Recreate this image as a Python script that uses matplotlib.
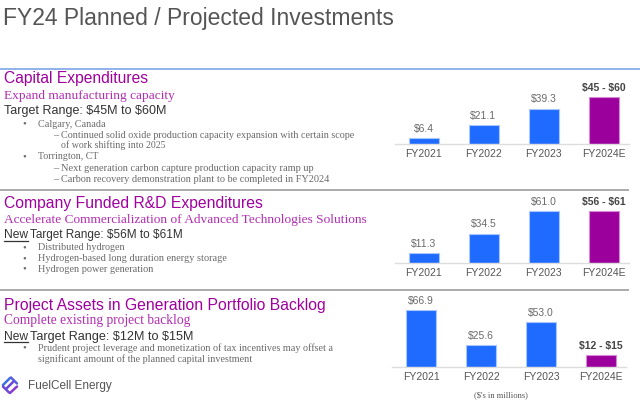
"""FY24 planned / projected investments slide."""
import matplotlib
matplotlib.use('Agg')
import matplotlib.pyplot as plt
from matplotlib.lines import Line2D

W, H = 640, 404

years = ['FY2021', 'FY2022', 'FY2023', 'FY2024E']

capex_bars = [6.4, 21.1, 39.3, 52.5]
capex_labels = ['$6.4', '$21.1', '$39.3', '$45 - $60']

rnd_bars = [11.3, 34.5, 61.0, 61.0]
rnd_labels = ['$11.3', '$34.5', '$61.0', '$56 - $61']

assets_bars = [66.9, 25.6, 53.0, 13.5]
assets_labels = ['$66.9', '$25.6', '$53.0', '$12 - $15']

blue = '#1f6bff'
purple = '#9c009c'
head_color = '#a0009f'
sub_color = '#b22db2'
body_color = '#6a6a6a'
SANS = ['Liberation Sans', 'DejaVu Sans']
NARROW = ['Liberation Sans Narrow', 'Liberation Sans']
SERIF = ['Liberation Serif', 'DejaVu Serif']

fig = plt.figure(figsize=(W / 100, H / 100), dpi=100)
fig.patch.set_facecolor('white')
renderer = fig.canvas.get_renderer()


def put(x, y, s, w, **kw):
    """Place text at pixel (x, baseline y), scaled to pixel width w."""
    t = fig.text(x / W, 1 - y / H, s, va='baseline', ha='left',
                 parse_math=False, **kw)
    bb = t.get_window_extent(renderer)
    t.set_fontsize(t.get_fontsize() * w / bb.width)
    return t


def hline(x0, x1, y, color, lw):
    fig.add_artist(Line2D([x0 / W, x1 / W], [1 - y / H, 1 - y / H],
                          color=color, lw=lw, transform=fig.transFigure))


# title and rules
put(3, 25, 'FY24 Planned / Projected Investments', 390,
    family=NARROW, color='#555555', fontsize=19)
hline(0, 640, 69, '#7ea6e6', 1.2)
hline(0, 628, 190, '#aaaaaa', 1.4)
hline(0, 628, 290, '#aaaaaa', 1.4)

# section 1
put(4, 83.3, 'Capital Expenditures', 144, family=SANS, color=head_color,
    fontsize=11)
put(4, 99.3, 'Expand manufacturing capacity', 172, family=SERIF,
    color=sub_color, fontsize=9.5)
put(4, 114.3, 'Target Range: $45M to $60M', 162, family=NARROW,
    color='#333333', fontsize=10)

bullets1 = [
    (22, 38, 126.7, '\u2022', 'Calgary, Canada', 67),
    (53, 61, 138.3, '\u2013', 'Continued solid oxide production capacity '
     'expansion with certain scope', 293),
    (None, 61, 148.3, None, 'of work shifting into 2025', 103),
    (22, 38, 159, '\u2022', 'Torrington, CT', 60),
    (53, 61, 171, '\u2013', 'Next generation carbon capture production '
     'capacity ramp up', 251),
    (53, 61, 182.3, '\u2013', 'Carbon recovery demonstration plant to be '
     'completed in FY2024', 268),
]

bullets2 = [
    (22, 38, 250, '\u2022', 'Distributed hydrogen', 86),
    (22, 38, 261, '\u2022', 'Hydrogen-based long duration energy storage', 189),
    (22, 38, 271.7, '\u2022', 'Hydrogen power generation', 115),
]

bullets3 = [
    (22, 38, 350.7, '\u2022', 'Prudent project leverage and monetization of '
     'tax incentives may offset a', 294),
    (None, 38, 362.3, None, 'significant amount of the planned capital '
     'investment', 212),
]


def draw_bullets(items):
    for bx, tx, y, mark, s, w in items:
        if mark:
            fig.text(bx / W, 1 - y / H, mark, va='baseline', ha='left',
                     family=SERIF, color=body_color, fontsize=7.5)
        put(tx, y, s, w, family=SERIF, color=body_color, fontsize=7.5)


draw_bullets(bullets1)

# section 2
put(4, 207.7, 'Company Funded R&D Expenditures', 258, family=SANS,
    color=head_color, fontsize=11)
put(4, 222.7, 'Accelerate Commercialization of Advanced Technologies '
    'Solutions', 366, family=SERIF, color=sub_color, fontsize=9.5)
put(4, 238.3, 'New', 24, family=NARROW, color='#333333', fontsize=10)
hline(4, 28, 240.5, '#333333', 0.9)
put(30, 238.3, 'Target Range: $56M to $61M', 152, family=NARROW,
    color='#333333', fontsize=10)
draw_bullets(bullets2)

# section 3
put(4, 310, 'Project Assets in Generation Portfolio Backlog', 319,
    family=SANS, color=head_color, fontsize=11)
put(4, 324.3, 'Complete existing project backlog', 187, family=SERIF,
    color=sub_color, fontsize=9.5)
put(4, 340, 'New', 24, family=NARROW, color='#333333', fontsize=10)
hline(4, 28, 342.2, '#333333', 0.9)
put(30, 340, 'Target Range: $12M to $15M', 163, family=NARROW,
    color='#333333', fontsize=10)
draw_bullets(bullets3)

# logo
logo = [((3, 385), (10, 378), '#3d6fe0'), ((11, 377.5), (17, 383.5), '#5a5ee0'),
        ((17, 386.5), (10, 393), '#8a3ad0'), ((9, 392.5), (3, 386.5), '#6a48d8'),
        ((7, 388), (13, 382), '#6a48d8')]
for p0, p1, c in logo:
    fig.add_artist(Line2D([p0[0] / W, p1[0] / W], [1 - p0[1] / H, 1 - p1[1] / H],
                          color=c, lw=1.8, transform=fig.transFigure,
                          solid_capstyle='round'))
put(28, 389, 'FuelCell Energy', 84, family=SANS, color='#555555', fontsize=10)


def bar_chart(center0, baseline, top, scale, heights, labels):
    left = center0 - 29
    ax = fig.add_axes([left / W, 1 - baseline / H, 234 / W,
                       (baseline - top) / H])
    ax.set_xlim(-29 / 60, 3 + 25 / 60)
    ax.set_ylim(0, (baseline - top) / scale)
    x = list(range(len(heights)))
    colors = [blue] * 3 + [purple]
    edges = ['#a9c7ff'] * 3 + ['#d68ad6']
    ax.bar(x, heights, width=0.5, color=colors, edgecolor=edges, lw=0.8,
           zorder=2)
    for i, (h, lab) in enumerate(zip(heights, labels)):
        last = i == len(heights) - 1
        ax.annotate(lab, (i, h), xytext=(0, 3), textcoords='offset points',
                    ha='center', va='bottom', fontsize=7.5, family=SANS,
                    color='#444444' if last else '#6a6a6a',
                    fontweight='bold' if last else 'normal',
                    parse_math=False)
    ax.set_xticks(x)
    ax.set_xticklabels(years, fontsize=7.5, family=SANS, color='#555555')
    ax.tick_params(axis='x', length=0, pad=3.3)
    ax.set_yticks([])
    for side in ['top', 'right', 'left']:
        ax.spines[side].set_visible(False)
    ax.spines['bottom'].set_color('#dddddd')
    ax.spines['bottom'].set_linewidth(1)
    ax.patch.set_alpha(0)
    return ax


bar_chart(423.5, 144, 78, 0.9, capex_bars, capex_labels)
bar_chart(423.5, 263, 200, 0.852, rnd_bars, rnd_labels)
bar_chart(421, 367, 298, 0.852, assets_bars, assets_labels)

put(474, 397, "($'s in millions)", 54, family=SERIF, color='#555555',
    fontsize=7)

fig.savefig('out.png', dpi=100)
